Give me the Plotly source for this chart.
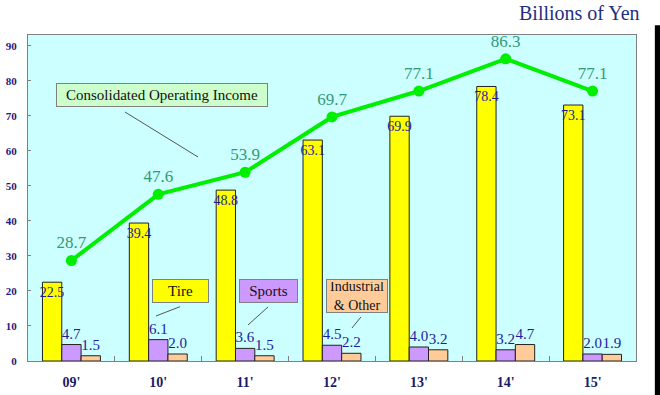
import plotly.graph_objects as go

categories = ["09'", "10'", "11'", "12'", "13'", "14'", "15'"]
tire = [22.5, 39.4, 48.8, 63.1, 69.9, 78.4, 73.1]
sports = [4.7, 6.1, 3.6, 4.5, 4.0, 3.2, 2.0]
industrial = [1.5, 2.0, 1.5, 2.2, 3.2, 4.7, 1.9]
operating_income = [28.7, 47.6, 53.9, 69.7, 77.1, 86.3, 77.1]
y_ticks = [0, 10, 20, 30, 40, 50, 60, 70, 80, 90]

SERIF = "'Liberation Serif', 'Times New Roman', Times, 'DejaVu Serif', serif"
LABEL_BLUE = "#1c1c9c"

fig = go.Figure()

fig.add_trace(go.Bar(
    x=categories, y=tire, name="Tire",
    marker=dict(color="#ffff00", line=dict(color="#222222", width=1)),
    text=[f"{v:.1f}" for v in tire], textposition="inside", textangle=0,
    insidetextanchor="end", constraintext="none",
    textfont=dict(family=SERIF, size=14, color=LABEL_BLUE),
))
fig.add_trace(go.Bar(
    x=categories, y=sports, name="Sports",
    marker=dict(color="#cc99ff", line=dict(color="#222222", width=1)),
    text=[f"{v:.1f}" for v in sports], textposition="outside", textangle=0,
    constraintext="none", cliponaxis=False,
    textfont=dict(family=SERIF, size=15, color=LABEL_BLUE),
))
fig.add_trace(go.Bar(
    x=categories, y=industrial, name="Industrial & Other",
    marker=dict(color="#ffcc99", line=dict(color="#222222", width=1)),
    text=[f"{v:.1f}" for v in industrial], textposition="outside", textangle=0,
    constraintext="none", cliponaxis=False,
    textfont=dict(family=SERIF, size=15, color=LABEL_BLUE),
))
fig.add_trace(go.Scatter(
    x=categories, y=operating_income, name="Consolidated Operating Income",
    mode="lines+markers+text",
    line=dict(color="#00ee00", width=4),
    marker=dict(color="#00ee00", size=11),
    text=[f"{v:.1f}" for v in operating_income], textposition="top center",
    textfont=dict(family=SERIF, size=17, color="#339977"),
    cliponaxis=False,
))

def callout(text, x, y, bg, w, h, size=15):
    fig.add_annotation(
        text=text, xref="paper", yref="paper", x=x, y=y,
        xanchor="center", yanchor="middle", showarrow=False,
        bgcolor=bg, bordercolor="#808080", borderwidth=1, borderpad=2,
        width=w, height=h, align="center",
        font=dict(family=SERIF, size=size, color="#111111"),
    )

callout("Consolidated Operating Income", 0.22, 0.817, "#ccffcc", 206, 18)
callout("Tire", 0.2508, 0.2147, "#ffff00", 51, 18)
callout("Sports", 0.3956, 0.2147, "#cc99ff", 53, 18)
callout("Industrial<br>& Other", 0.5411, 0.1994, "#ffcc99", 56, 28, size=14)

leaders = [
    (0.1595, 0.7638, 0.2796, 0.6258),
    (0.25, 0.1666, 0.2105, 0.138),
    (0.3947, 0.1656, 0.3618, 0.1104),
    (0.5477, 0.135, 0.5329, 0.1012),
]
for x0, y0, x1, y1 in leaders:
    fig.add_shape(type="line", xref="paper", yref="paper",
                  x0=x0, y0=y0, x1=x1, y1=y1,
                  line=dict(color="#555555", width=1))

fig.add_annotation(
    text="Billions of Yen", xref="paper", yref="paper",
    x=1.0099, y=1.107, xanchor="right", yanchor="top", showarrow=False,
    font=dict(family=SERIF, size=20, color="#1f2f80"),
)

# frame edge on the right
fig.add_shape(type="rect", xref="paper", yref="paper",
              x0=1.031, x1=1.045, y0=-0.11, y1=1.03,
              fillcolor="#000000", line=dict(width=0))

fig.update_layout(
    width=660, height=395,
    margin=dict(l=28, r=24, t=35, b=34, autoexpand=False),
    paper_bgcolor="#ffffff", plot_bgcolor="#ccffff",
    barmode="group", bargap=0.333, bargroupgap=0,
    showlegend=False,
    font=dict(family=SERIF),
)
fig.update_xaxes(
    type="category", tickson="boundaries", ticks="inside", ticklen=5,
    tickcolor="#808080", showline=True, linecolor="#808080", linewidth=1,
    mirror=True, showgrid=False, ticklabelstandoff=8, automargin=False,
    tickfont=dict(family=SERIF, size=14, color="#1a1a66", weight="bold"),
)
fig.update_yaxes(
    range=[0, 93.1], tickvals=y_ticks, ticks="inside", ticklen=3,
    tickcolor="#808080", showline=True, linecolor="#808080", linewidth=1,
    mirror=True, showgrid=False, zeroline=False, ticklabelstandoff=8,
    automargin=False,
    tickfont=dict(family=SERIF, size=11, color="#1a1a80", weight="bold"),
)

fig.write_html(
    "out.html",
    config={"displayModeBar": False},
    post_script="document.body.style.margin='0';document.body.style.overflow='hidden';",
)
